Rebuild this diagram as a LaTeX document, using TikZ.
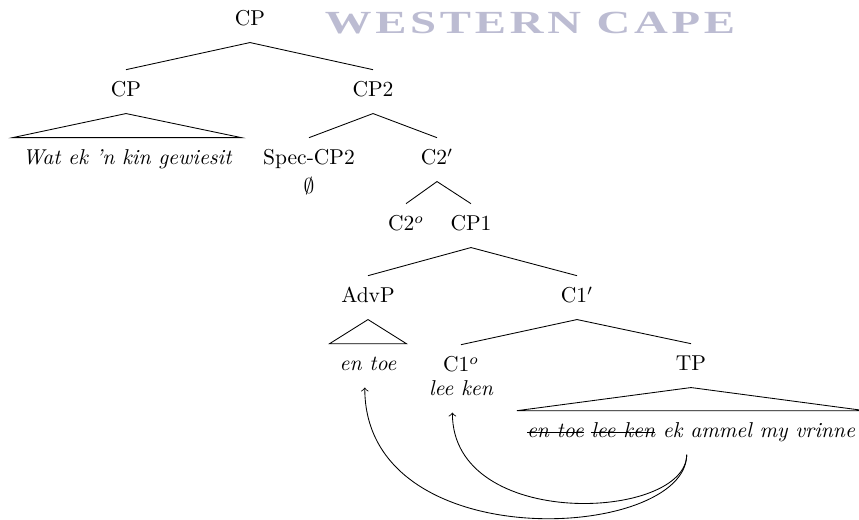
\documentclass[tikz,border=0pt]{standalone}
\usepackage{fontspec}
\usepackage{graphicx}
\usepackage{tikz}

\newfontfamily\wmfont[LetterSpace=8]{Liberation Serif}
\definecolor{wmgray}{RGB}{188,188,210}
\newcommand{\strk}[1]{\setbox0\hbox{#1}\rlap{\rule[0.5ex]{\wd0}{0.4pt}}\box0\relax}

\tikzset{
	lbl/.style={anchor=base, text height=7pt, text depth=2pt, inner ysep=5.5pt, inner xsep=4.5pt},
	leaf/.style={lbl, font=\itshape}
}

\begin{document}
\begin{tikzpicture}[x=0.465pt, y=-0.465pt, >=to]
		\useasboundingbox (0,0) rectangle (859,520);
		
		% =========================================================
		% Watermark
		% =========================================================
		\node[text=wmgray] (Mark) at (530,23)
		{\scalebox{1.45}[1]{\wmfont\bfseries\fontsize{15}{17}\selectfont WESTERN CAPE}};
		
		% =========================================================
		% Upper part: CP, CP2
		% =========================================================
		\node[lbl] (CP) at (250,26) {CP};
		\node[lbl] (CPw) at (126,97) {CP};
		\node[lbl] (CP2) at (373,97) {CP2};
		\draw (CP.south) -- (CPw.north);
		\draw (CP.south) -- (CP2.north);
		
		% Roof over the first CP
		\node[leaf] (Wat) at (127,165) {Wat ek 'n kin gewiesit};
		\draw (CPw.south) -- (Wat.north west) -- (Wat.north east) -- cycle;
		
		% Spec and bar of CP2
		\node[lbl] (Spec) at (309,165) {Spec-CP2};
		\node[lbl] (Null) at (309,194) {$\emptyset$};
		\node[lbl] (C2bar) at (437,165) {C2$'$};
		\draw (CP2.south) -- (Spec.north);
		\draw (CP2.south) -- (C2bar.north);
		
		% Head and complement of C2
		\node[lbl] (C2o) at (406,231) {C2$^o$};
		\node[lbl] (CP1) at (471,231) {CP1};
		\draw (C2bar.south) -- (C2o.north);
		\draw (C2bar.south) -- (CP1.north);
		
		% =========================================================
		% Lower part: CP1
		% =========================================================
		\node[lbl] (AdvP) at (368,303) {AdvP};
		\node[lbl] (C1bar) at (577,303) {C1$'$};
		\draw (CP1.south) -- (AdvP.north);
		\draw (CP1.south) -- (C1bar.north);
		
		% Roof over AdvP
		\node[leaf] (Entoe) at (368,371) {en toe};
		\draw (AdvP.south) -- (Entoe.north west) -- (Entoe.north east) -- cycle;
		
		% Head and TP
		\node[lbl] (C1o) at (461,372) {C1$^o$};
		\node[leaf] (Leeken) at (461,396) {lee ken};
		\node[lbl] (TP) at (691,371) {TP};
		\draw (C1bar.south) -- (C1o.north);
		\draw (C1bar.south) -- (TP.north);
		
		% Roof over TP
		\node[leaf] (TPleaf) at (691,438) {\strk{en toe} \strk{lee ken} ek ammel my vrinne};
		\draw (TP.south) -- (TPleaf.north west) -- (TPleaf.north east) -- cycle;
		
		% Movement arrows
		\coordinate (Src) at ([xshift=-2pt]TPleaf.south);
		\draw[->] (Src) .. controls +(0,66) and +(0,119) .. ([xshift=-4pt]Leeken.south);
		\draw[->] (Src) .. controls +(0,86) and +(0,172) .. ([xshift=-1.5pt]Entoe.south);
		
	\end{tikzpicture}
\end{document}
